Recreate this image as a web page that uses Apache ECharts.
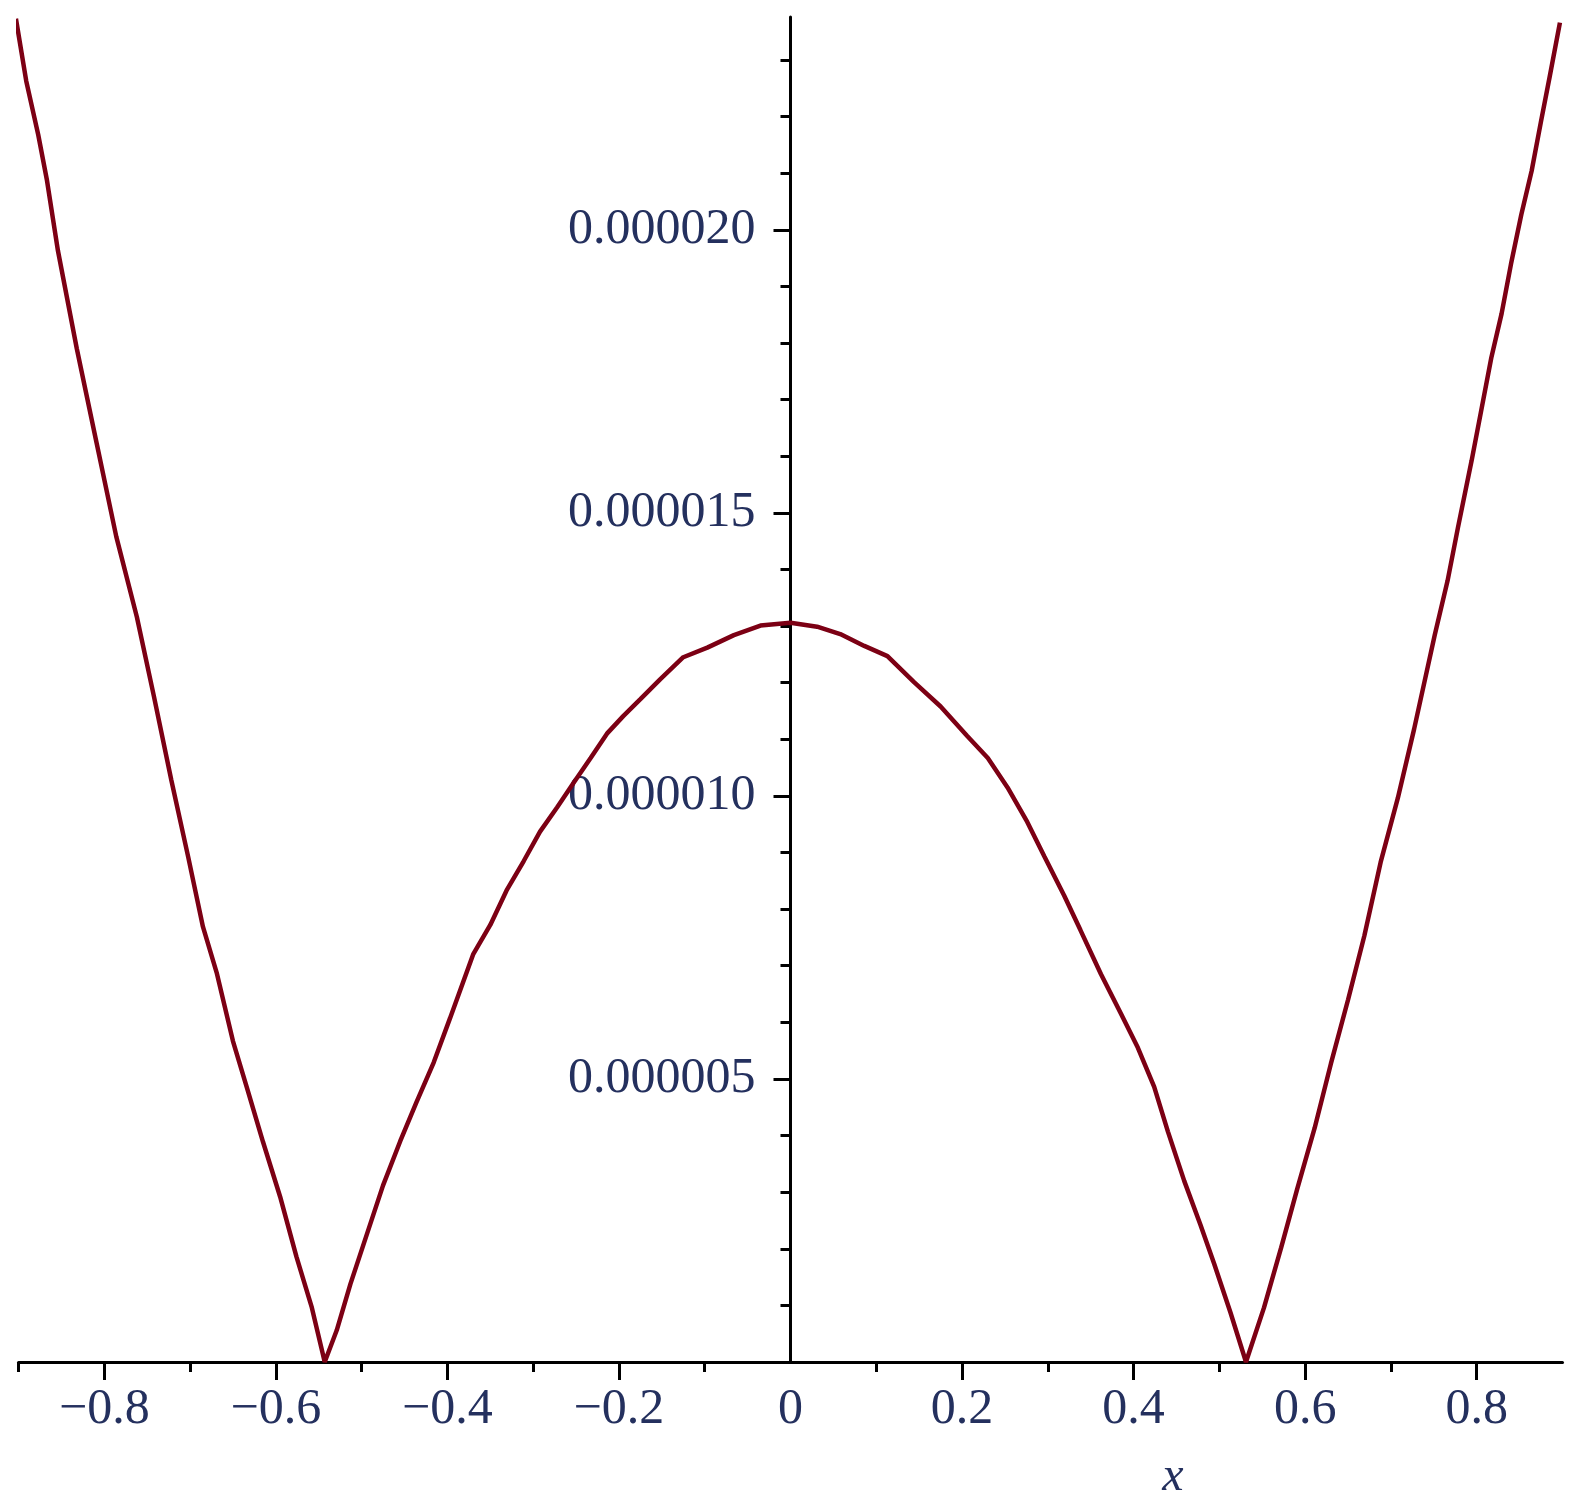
<!DOCTYPE html>
<html>
<head>
<meta charset="utf-8">
<title>plot</title>
<script src="https://cdn.jsdelivr.net/npm/echarts@6/dist/echarts.min.js"></script>
<style>
  html, body { margin: 0; padding: 0; background: #fff; }
  #chartId { width: 1573px; height: 1507px; }
</style>
</head>
<body>
<div id="chartId"></div>
<script>
  // x positions
  const xValues = [
    -0.903, -0.891, -0.877, -0.867, -0.854, -0.832, -0.809, -0.786, -0.762, -0.742,
    -0.722, -0.702, -0.685, -0.669, -0.650, -0.634, -0.615, -0.595, -0.576, -0.558,
    -0.543, -0.529, -0.513, -0.494, -0.475, -0.455, -0.436, -0.416, -0.397, -0.370,
    -0.350, -0.331, -0.311, -0.292, -0.272, -0.253, -0.233, -0.214, -0.195, -0.175,
    -0.152, -0.125, -0.097, -0.066, -0.035, 0.000, 0.031, 0.058, 0.086, 0.113,
    0.144, 0.175, 0.206, 0.230, 0.253, 0.276, 0.296, 0.319, 0.338, 0.362,
    0.385, 0.405, 0.424, 0.440, 0.459, 0.478, 0.494, 0.513, 0.531, 0.552,
    0.572, 0.591, 0.611, 0.630, 0.650, 0.669, 0.688, 0.708, 0.727, 0.751,
    0.766, 0.778, 0.794, 0.805, 0.817, 0.829, 0.840, 0.852, 0.864, 0.875,
    0.885, 0.897
  ];
  // y values, in units of 1e-6
  const yMicro = [
    23.73, 22.63, 21.68, 20.89, 19.63, 17.90, 16.24, 14.58, 13.16, 11.75,
    10.29, 8.91, 7.69, 6.88, 5.67, 4.86, 3.89, 2.92, 1.86, 0.96,
    0.00, 0.56, 1.38, 2.25, 3.12, 3.90, 4.59, 5.29, 6.07, 7.20,
    7.72, 8.33, 8.85, 9.37, 9.80, 10.23, 10.67, 11.10, 11.41, 11.71,
    12.06, 12.45, 12.62, 12.84, 13.01, 13.06, 12.99, 12.86, 12.65, 12.47,
    12.01, 11.58, 11.06, 10.67, 10.15, 9.54, 8.93, 8.24, 7.63, 6.85,
    6.16, 5.55, 4.86, 4.07, 3.20, 2.42, 1.73, 0.87, 0.00, 0.96,
    2.02, 3.07, 4.13, 5.27, 6.40, 7.53, 8.83, 9.96, 11.18, 12.84,
    13.80, 14.73, 15.92, 16.79, 17.74, 18.52, 19.40, 20.27, 21.04, 21.92,
    22.70, 23.66
  ];

  const xMajorTicks = [-0.8, -0.6, -0.4, -0.2, 0.2, 0.4, 0.6, 0.8];
  const xMinorTicks = [-0.9, -0.7, -0.5, -0.3, -0.1, 0.1, 0.3, 0.5, 0.7];
  const xLabels = [-0.8, -0.6, -0.4, -0.2, 0, 0.2, 0.4, 0.6, 0.8];
  const yMajorTicks = [5e-6, 10e-6, 15e-6, 20e-6];
  const yMinorTicks = [1e-6, 2e-6, 3e-6, 4e-6, 6e-6, 7e-6, 8e-6, 9e-6, 11e-6, 12e-6,
    13e-6, 14e-6, 16e-6, 17e-6, 18e-6, 19e-6, 21e-6, 22e-6, 23e-6];

  const lineColor = '#7c0014';
  const axisColor = '#000';
  const textColor = '#24305e';
  const labelFont = '"Liberation Serif", "Times New Roman", serif';

  const gridLeft = 18.5;
  const gridWidth = 1544;
  // the y axis sits at x = 0, half way across the grid
  const yAxisOffset = -gridWidth / 2;

  let seriesData = xValues.map((x, i) => [x, yMicro[i] * 1e-6]);

  let myChart = echarts.init(document.getElementById('chartId'), null, { renderer: 'canvas' });

  let tickOnly = {
    axisLine: { show: false },
    axisLabel: { show: false },
    splitLine: { show: false }
  };

  let option = {
    animation: false,
    backgroundColor: '#fff',
    grid: {
      left: gridLeft,
      width: gridWidth,
      top: 17,
      bottom: 145,
      containLabel: false,
      outerBoundsMode: 'none'
    },
    xAxis: [{
      type: 'value',
      min: -0.9,
      max: 0.9,
      position: 'bottom',
      axisLine: { lineStyle: { color: axisColor, width: 3 } },
      axisTick: {
        customValues: xMajorTicks,
        length: 18,
        lineStyle: { color: axisColor, width: 3 }
      },
      axisLabel: {
        customValues: xLabels,
        margin: 48,
        verticalAlign: 'middle',
        color: textColor,
        fontFamily: labelFont,
        fontSize: 50,
        formatter: v => v === 0 ? '0' : (v < 0 ? '\u2212' : '') + Math.abs(v).toFixed(1)
      },
      splitLine: { show: false }
    }, Object.assign({
      type: 'value',
      min: -0.9,
      max: 0.9,
      position: 'bottom',
      axisTick: {
        customValues: xMinorTicks,
        length: 10,
        lineStyle: { color: axisColor, width: 3 }
      }
    }, tickOnly)],
    yAxis: [{
      type: 'value',
      min: 0,
      max: 23.76e-6,
      position: 'left',
      offset: yAxisOffset,
      axisLine: { onZero: false, lineStyle: { color: axisColor, width: 3 } },
      axisTick: {
        customValues: yMajorTicks,
        length: 17,
        lineStyle: { color: axisColor, width: 3 }
      },
      axisLabel: {
        customValues: yMajorTicks,
        margin: 35,
        color: textColor,
        fontFamily: labelFont,
        fontSize: 50,
        formatter: v => v.toFixed(6)
      },
      splitLine: { show: false }
    }, Object.assign({
      type: 'value',
      min: 0,
      max: 23.76e-6,
      position: 'left',
      offset: yAxisOffset,
      axisTick: {
        customValues: yMinorTicks,
        length: 10,
        lineStyle: { color: axisColor, width: 3 }
      }
    }, tickOnly, { axisLine: { show: false, onZero: false } })],
    graphic: [{
      type: 'text',
      x: 1173,
      y: 1477,
      style: {
        text: 'x',
        font: 'italic 48px "Liberation Serif", serif',
        fill: textColor,
        textAlign: 'center',
        textVerticalAlign: 'middle'
      }
    }],
    series: [{
      type: 'line',
      xAxisIndex: 0,
      yAxisIndex: 0,
      data: seriesData,
      showSymbol: false,
      smooth: false,
      clip: true,
      lineStyle: { color: lineColor, width: 4.5 }
    }]
  };

  myChart.setOption(option);
  window.addEventListener('resize', () => myChart.resize(), false);
</script>
</body>
</html>
